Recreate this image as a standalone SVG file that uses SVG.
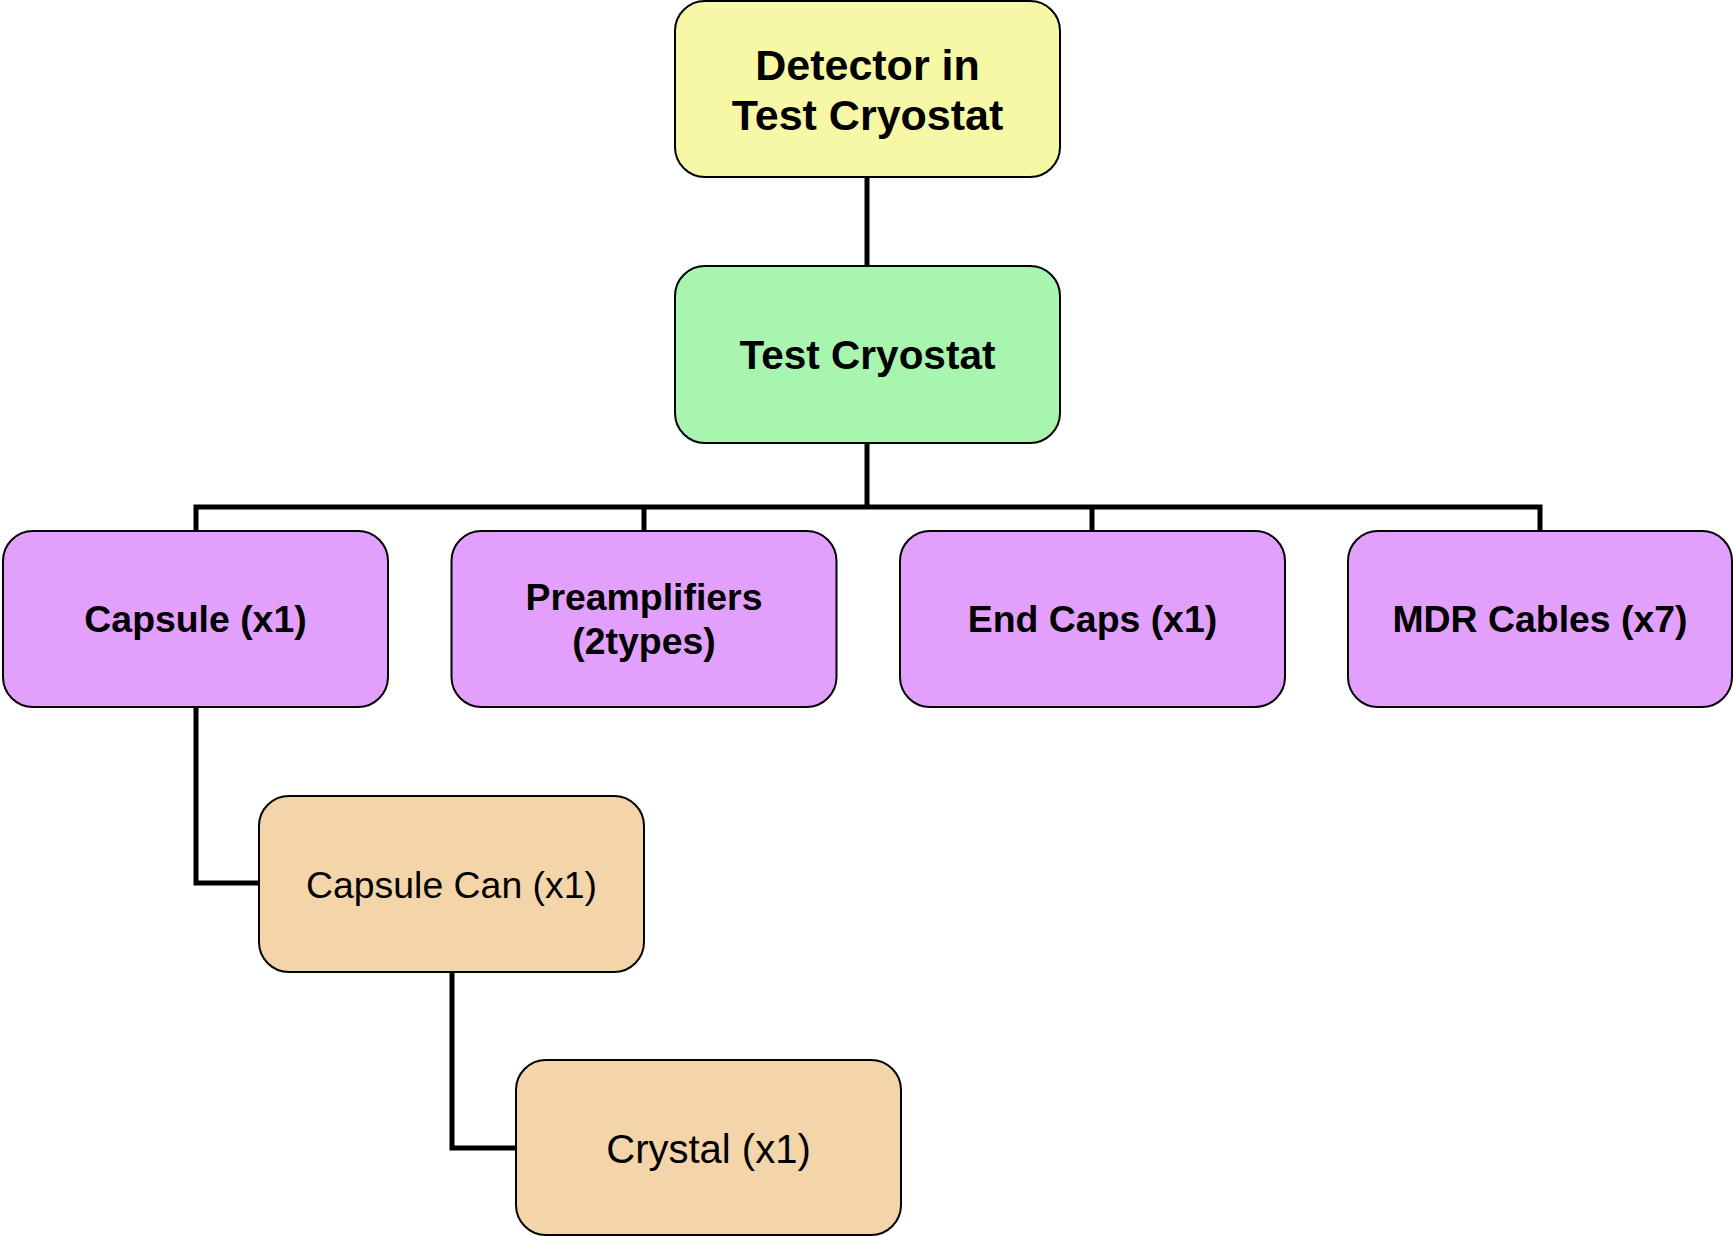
<svg xmlns="http://www.w3.org/2000/svg" width="1733" height="1236" viewBox="0 0 1733 1236">
<style>
.box{stroke:#000;stroke-width:2}
.y{fill:#F7F8A5}.g{fill:#A8F5B0}.p{fill:#E2A0FC}.t{fill:#F4D5A9}
.b{font-family:"Liberation Sans",Arial,sans-serif;font-weight:bold;text-anchor:middle;fill:#000}
.r{font-family:"Liberation Sans",Arial,sans-serif;text-anchor:middle;fill:#000}
.c{fill:none;stroke:#000;stroke-width:5}
</style>
<rect width="1733" height="1236" fill="#fff"/>
<g id="connectors">
<line class="c" x1="867" y1="177" x2="867" y2="266"/>
<line class="c" x1="867" y1="443" x2="867" y2="507"/>
<path class="c" d="M196,531 V507 H1540 V531"/>
<line class="c" x1="644" y1="507" x2="644" y2="531"/>
<line class="c" x1="1092" y1="507" x2="1092" y2="531"/>
<path class="c" d="M196,707 V883 H259"/>
<path class="c" d="M452,972 V1148 H516"/>
</g>
<g id="detector">
<rect class="box y" x="675" y="1" width="385" height="176" rx="30"/>
<text class="b" x="867.5" y="80" font-size="43">Detector in</text>
<text class="b" x="867.5" y="130" font-size="43">Test Cryostat</text>
</g>
<g id="test-cryostat">
<rect class="box g" x="675" y="266" width="385" height="177" rx="30"/>
<text class="b" x="867.5" y="369" font-size="40.5">Test Cryostat</text>
</g>
<g id="capsule">
<rect class="box p" x="3" y="531" width="385" height="176" rx="30"/>
<text class="b" x="195.5" y="632" font-size="37.4">Capsule (x1)</text>
</g>
<g id="preamplifiers">
<rect class="box p" x="451.5" y="531" width="385" height="176" rx="30"/>
<text class="b" x="644" y="610" font-size="37.4">Preamplifiers</text>
<text class="b" x="644" y="654" font-size="37.4">(2types)</text>
</g>
<g id="end-caps">
<rect class="box p" x="900" y="531" width="385" height="176" rx="30"/>
<text class="b" x="1092.5" y="632" font-size="37.4">End Caps (x1)</text>
</g>
<g id="mdr-cables">
<rect class="box p" x="1348" y="531" width="384" height="176" rx="30"/>
<text class="b" x="1540" y="632" font-size="37.4">MDR Cables (x7)</text>
</g>
<g id="capsule-can">
<rect class="box t" x="259" y="796" width="385" height="176" rx="30"/>
<text class="r" x="451.5" y="898" font-size="37.4">Capsule Can (x1)</text>
</g>
<g id="crystal">
<rect class="box t" x="516" y="1060" width="385" height="175" rx="30"/>
<text class="r" x="708.5" y="1163" font-size="40">Crystal (x1)</text>
</g>
</svg>
